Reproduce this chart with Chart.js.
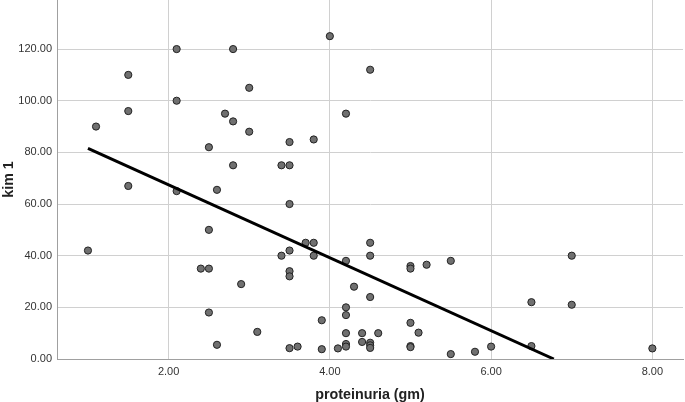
<!DOCTYPE html>
<html>
<head>
<meta charset="utf-8">
<script src="https://cdn.jsdelivr.net/npm/chart.js@4/dist/chart.umd.min.js"></script>
<style>
  html, body { margin: 0; padding: 0; background: #ffffff; }
  #wrap { width: 685px; height: 402px; position: relative; }
</style>
</head>
<body>
<div id="wrap"><canvas id="c" width="685" height="402"></canvas></div>
<script>
// proteinuria (gm)
const proteinuria = [1.0, 1.1, 1.5, 1.5, 1.5, 2.1, 2.1, 2.1, 2.4, 2.5, 2.5, 2.5, 2.5, 2.6, 2.6, 2.7, 2.8, 2.8, 2.8, 2.9,
  3.0, 3.0, 3.1, 3.4, 3.4, 3.5, 3.5, 3.5, 3.5, 3.5, 3.5, 3.5, 3.6, 3.7, 3.8, 3.8, 3.8, 3.9, 3.9, 4.0,
  4.1, 4.2, 4.2, 4.2, 4.2, 4.2, 4.2, 4.2, 4.3, 4.4, 4.4, 4.5, 4.5, 4.5, 4.5, 4.5, 4.5, 4.5, 4.6, 5.0,
  5.0, 5.0, 5.0, 5.0, 5.1, 5.2, 5.5, 5.5, 5.8, 6.0, 6.5, 6.5, 7.0, 7.0, 8.0];
// kim 1
const kim1 = [42, 90, 110, 96, 67, 120, 100, 65, 35, 82, 50, 35, 18, 65.5, 5.5, 95, 120, 92, 75, 29,
  105, 88, 10.5, 75, 40, 84, 75, 60, 42, 34, 32, 4.2, 4.8, 45, 85, 45, 40, 15, 3.8, 125,
  4.1, 95, 38, 20, 17, 10, 5.8, 4.8, 28, 10, 6.6, 112, 45, 40, 24, 6.3, 5.3, 4.3, 10, 36,
  35, 14, 5.0, 4.6, 10.2, 36.5, 38, 1.9, 2.8, 4.8, 22, 5, 40, 21, 4.1];
// fit line (linear regression as drawn)
const fitIntercept = 95.7;
const fitSlope = -14.12;
const fitStartX = 1.0;
const xTicks = [2, 4, 6, 8];
const yTicks = [0, 20, 40, 60, 80, 100, 120];

const points = proteinuria.map((x, i) => ({ x: x, y: kim1[i] }));
const fitEndX = -fitIntercept / fitSlope;
const fitLine = [fitStartX, fitEndX].map(x => ({ x: x, y: fitIntercept + fitSlope * x }));

const font = "'Liberation Sans', Arial, sans-serif";

function zeroPad(s) {
  s.paddingTop = 0; s.paddingBottom = 0; s.paddingLeft = 0; s.paddingRight = 0;
}

new Chart(document.getElementById('c'), {
  type: 'scatter',
  data: {
    datasets: [
      {
        type: 'line',
        data: fitLine,
        borderColor: '#000000',
        borderWidth: 3,
        pointRadius: 0,
        fill: false,
        order: 0
      },
      {
        data: points,
        backgroundColor: '#707070',
        borderColor: '#222222',
        borderWidth: 1,
        pointRadius: 3.6,
        order: 1
      }
    ]
  },
  options: {
    responsive: false,
    animation: false,
    layout: { autoPadding: false, padding: { top: 0, right: 2, left: 0, bottom: 0 } },
    plugins: { legend: { display: false }, tooltip: { enabled: false } },
    scales: {
      x: {
        type: 'linear',
        min: 0.616,
        max: 8.38,
        afterBuildTicks: s => { s.ticks = xTicks.map(v => ({ value: v })); },
        afterFit: s => { s.height = 43; zeroPad(s); },
        grid: { color: '#d0d0d0', lineWidth: 1, drawTicks: false },
        border: { color: '#a0a0a0', width: 1 },
        ticks: {
          padding: 6,
          color: '#333333',
          font: { family: font, size: 11 },
          callback: v => Number(v).toFixed(2)
        },
        title: {
          display: true,
          text: 'proteinuria (gm)',
          color: '#222222',
          font: { family: font, size: 14.3, weight: 'bold' },
          padding: { top: 9, bottom: -2 }
        }
      },
      y: {
        type: 'linear',
        min: 0,
        max: 139,
        afterBuildTicks: s => { s.ticks = yTicks.map(v => ({ value: v })); },
        afterFit: s => { s.width = 57; zeroPad(s); },
        grid: { color: '#d0d0d0', lineWidth: 1, drawTicks: false },
        border: { color: '#a0a0a0', width: 1 },
        ticks: {
          padding: 5,
          color: '#333333',
          font: { family: font, size: 11 },
          callback: v => Number(v).toFixed(2)
        },
        title: {
          display: true,
          text: 'kim 1',
          color: '#222222',
          font: { family: font, size: 14.3, weight: 'bold' },
          padding: { top: 0, bottom: 4 }
        }
      }
    }
  }
});
</script>
</body>
</html>
